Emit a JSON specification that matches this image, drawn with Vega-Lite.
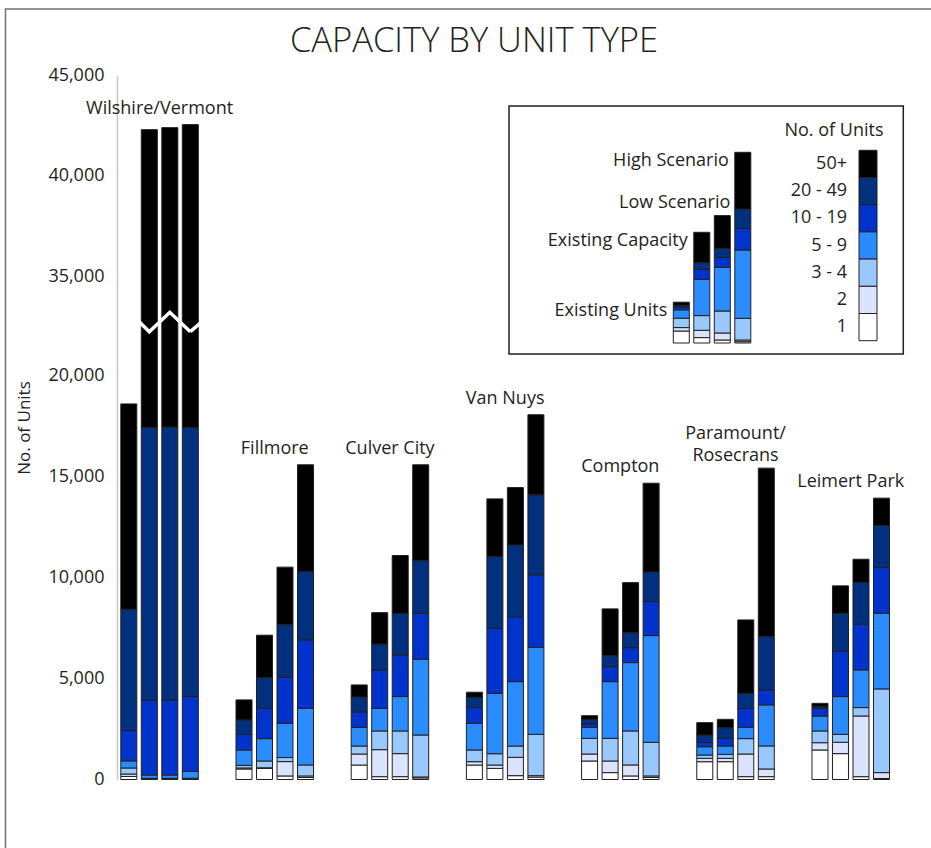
{
  "$schema": "https://vega.github.io/schema/vega-lite/v6.json",
  "width": 814,
  "height": 704,
  "autosize": {"type": "none"},
  "padding": {"left": 117, "top": 75.5, "right": 0, "bottom": 68.5},
  "background": "white",
  "title": {"text": "CAPACITY BY UNIT TYPE", "fontSize": 34.5, "fontWeight": 300, "font": "Open Sans", "color": "#231f20", "anchor": "middle", "frame": "group", "dx": -50, "dy": 35, "offset": -43.5, "baseline": "alphabetic"},
  "config": {
    "font": "Open Sans",
    "view": {"stroke": null},
    "text": {"font": "Open Sans", "fontSize": 18, "color": "#231f20"}
  },
  "datasets": {
    "bars": [
      {"n": "Wilshire/Vermont", "s": "Existing Units", "1": 150, "2": 120, "3 - 4": 300, "5 - 9": 350, "10 - 19": 1500, "20 - 49": 6000, "50+": 10150},
      {"n": "Wilshire/Vermont", "s": "Existing Capacity", "1": 20, "2": 20, "3 - 4": 20, "5 - 9": 160, "10 - 19": 3700, "20 - 49": 13480, "50+": 24900},
      {"n": "Wilshire/Vermont", "s": "Low Scenario", "1": 20, "2": 20, "3 - 4": 20, "5 - 9": 160, "10 - 19": 3710, "20 - 49": 13500, "50+": 24970},
      {"n": "Wilshire/Vermont", "s": "High Scenario", "1": 20, "2": 20, "3 - 4": 20, "5 - 9": 340, "10 - 19": 3700, "20 - 49": 13300, "50+": 25150},
      {"n": "Fillmore", "s": "Existing Units", "1": 520, "2": 50, "3 - 4": 130, "5 - 9": 760, "10 - 19": 775, "20 - 49": 710, "50+": 990},
      {"n": "Fillmore", "s": "Existing Capacity", "1": 550, "2": 30, "3 - 4": 335, "5 - 9": 1105, "10 - 19": 1500, "20 - 49": 1520, "50+": 2095},
      {"n": "Fillmore", "s": "Low Scenario", "1": 175, "2": 710, "3 - 4": 200, "5 - 9": 1700, "10 - 19": 2275, "20 - 49": 2600, "50+": 2840},
      {"n": "Fillmore", "s": "High Scenario", "1": 100, "2": 75, "3 - 4": 545, "5 - 9": 2800, "10 - 19": 3380, "20 - 49": 3380, "50+": 5280},
      {"n": "Culver City", "s": "Existing Units", "1": 715, "2": 545, "3 - 4": 395, "5 - 9": 925, "10 - 19": 760, "20 - 49": 740, "50+": 595},
      {"n": "Culver City", "s": "Existing Capacity", "1": 140, "2": 1335, "3 - 4": 925, "5 - 9": 1120, "10 - 19": 1895, "20 - 49": 1285, "50+": 1550},
      {"n": "Culver City", "s": "Low Scenario", "1": 140, "2": 1140, "3 - 4": 1120, "5 - 9": 1700, "10 - 19": 2060, "20 - 49": 2045, "50+": 2870},
      {"n": "Culver City", "s": "High Scenario", "1": 80, "2": 45, "3 - 4": 2075, "5 - 9": 3745, "10 - 19": 2275, "20 - 49": 2605, "50+": 4735},
      {"n": "Van Nuys", "s": "Existing Units", "1": 715, "2": 165, "3 - 4": 580, "5 - 9": 1320, "10 - 19": 775, "20 - 49": 510, "50+": 250},
      {"n": "Van Nuys", "s": "Existing Capacity", "1": 550, "2": 165, "3 - 4": 560, "5 - 9": 2985, "10 - 19": 3215, "20 - 49": 3545, "50+": 2855},
      {"n": "Van Nuys", "s": "Low Scenario", "1": 190, "2": 905, "3 - 4": 560, "5 - 9": 3185, "10 - 19": 3200, "20 - 49": 3560, "50+": 2835},
      {"n": "Van Nuys", "s": "High Scenario", "1": 120, "2": 70, "3 - 4": 2045, "5 - 9": 4305, "10 - 19": 3580, "20 - 49": 3955, "50+": 3960},
      {"n": "Compton", "s": "Existing Units", "1": 915, "2": 345, "3 - 4": 775, "5 - 9": 545, "10 - 19": 165, "20 - 49": 230, "50+": 180},
      {"n": "Compton", "s": "Existing Capacity", "1": 340, "2": 575, "3 - 4": 1120, "5 - 9": 2805, "10 - 19": 740, "20 - 49": 545, "50+": 2310},
      {"n": "Compton", "s": "Low Scenario", "1": 175, "2": 545, "3 - 4": 1680, "5 - 9": 3380, "10 - 19": 740, "20 - 49": 740, "50+": 2475},
      {"n": "Compton", "s": "High Scenario", "1": 100, "2": 75, "3 - 4": 1665, "5 - 9": 5275, "10 - 19": 1680, "20 - 49": 1470, "50+": 4385},
      {"n": "Paramount/Rosecrans", "s": "Existing Units", "1": 880, "2": 165, "3 - 4": 165, "5 - 9": 410, "10 - 19": 215, "20 - 49": 365, "50+": 610},
      {"n": "Paramount/Rosecrans", "s": "Existing Capacity", "1": 880, "2": 165, "3 - 4": 200, "5 - 9": 410, "10 - 19": 380, "20 - 49": 525, "50+": 415},
      {"n": "Paramount/Rosecrans", "s": "Low Scenario", "1": 140, "2": 1120, "3 - 4": 760, "5 - 9": 560, "10 - 19": 940, "20 - 49": 740, "50+": 3630},
      {"n": "Paramount/Rosecrans", "s": "High Scenario", "1": 140, "2": 380, "3 - 4": 1140, "5 - 9": 2030, "10 - 19": 740, "20 - 49": 2640, "50+": 8325},
      {"n": "Leimert Park", "s": "Existing Units", "1": 1460, "2": 360, "3 - 4": 580, "5 - 9": 740, "10 - 19": 380, "20 - 49": 80, "50+": 165},
      {"n": "Leimert Park", "s": "Existing Capacity", "1": 1280, "2": 560, "3 - 4": 395, "5 - 9": 1865, "10 - 19": 2260, "20 - 49": 1860, "50+": 1355},
      {"n": "Leimert Park", "s": "Low Scenario", "1": 140, "2": 3000, "3 - 4": 415, "5 - 9": 1865, "10 - 19": 2260, "20 - 49": 2060, "50+": 1150},
      {"n": "Leimert Park", "s": "High Scenario", "1": 50, "2": 290, "3 - 4": 4140, "5 - 9": 3740, "10 - 19": 2260, "20 - 49": 2080, "50+": 1350}
    ],
    "labels": [
      {"n": "Wilshire/Vermont", "label": "Wilshire/Vermont"},
      {"n": "Fillmore", "label": "Fillmore"},
      {"n": "Culver City", "label": "Culver City"},
      {"n": "Van Nuys", "label": "Van Nuys"},
      {"n": "Compton", "label": "Compton"},
      {"n": "Paramount/Rosecrans", "label": "Paramount/\nRosecrans"},
      {"n": "Leimert Park", "label": "Leimert Park"}
    ],
    "mini": [
      {"s": "Existing Units", "1": 600, "2": 170, "3 - 4": 470, "5 - 9": 420, "10 - 19": 130, "20 - 49": 100, "50+": 150},
      {"s": "Existing Capacity", "1": 270, "2": 365, "3 - 4": 735, "5 - 9": 1815, "10 - 19": 500, "20 - 49": 335, "50+": 1515},
      {"s": "Low Scenario", "1": 150, "2": 350, "3 - 4": 1100, "5 - 9": 2185, "10 - 19": 500, "20 - 49": 450, "50+": 1635},
      {"s": "High Scenario", "1": 65, "2": 85, "3 - 4": 1085, "5 - 9": 3415, "10 - 19": 1085, "20 - 49": 965, "50+": 2835}
    ],
    "units": [
      {"u": "50+"}, {"u": "20 - 49"}, {"u": "10 - 19"}, {"u": "5 - 9"}, {"u": "3 - 4"}, {"u": "2"}, {"u": "1"}
    ]
  },
  "layer": [
    {
      "data": {"values": [{}]},
      "mark": {"type": "rect", "fillOpacity": 0, "stroke": "#707070", "strokeWidth": 1.5},
      "encoding": {
        "x": {"datum": 0, "type": "quantitative", "scale": {"domain": [0, 1], "range": [-111.5, 830], "nice": false, "zero": false}, "axis": null},
        "x2": {"datum": 1},
        "y": {"datum": 0, "type": "quantitative", "scale": {"domain": [0, 1], "range": [790, -66.5], "nice": false, "zero": false}, "axis": null},
        "y2": {"datum": 1}
      }
    },
    {
      "layer": [
        {
          "data": {"name": "bars"},
          "transform": [
            {"fold": ["1", "2", "3 - 4", "5 - 9", "10 - 19", "20 - 49", "50+"], "as": ["u", "v"]},
            {"calculate": "indexof(['1','2','3 - 4','5 - 9','10 - 19','20 - 49','50+'], datum.u)", "as": "r"}
          ],
          "mark": {"type": "bar", "stroke": "#231f20", "strokeWidth": 1},
          "encoding": {
            "x": {"field": "n", "type": "nominal", "scale": {"domain": ["Wilshire/Vermont", "Fillmore", "Culver City", "Van Nuys", "Compton", "Paramount/Rosecrans", "Leimert Park"], "range": [3.8, 772.5], "paddingInner": 0.327, "paddingOuter": 0}, "axis": null},
            "xOffset": {"field": "s", "type": "nominal", "scale": {"domain": ["Existing Units", "Existing Capacity", "Low Scenario", "High Scenario"], "paddingInner": 0.2195, "paddingOuter": 0}},
            "y": {"field": "v", "type": "quantitative", "stack": "zero",
              "scale": {"domain": [0, 20000, 35000, 45000], "range": [704, 299.5, 200.5, 0], "nice": false, "zero": false},
              "axis": {"values": [0, 5000, 10000, 15000, 20000, 35000, 40000, 45000], "format": ",d", "title": "No. of Units", "labelFontSize": 18, "labelColor": "#231f20", "labelFont": "Open Sans", "ticks": false, "labelPadding": 13, "domainColor": "#c8c8c8", "domainWidth": 1.5, "gridColor": "#dcdcdc", "gridWidth": 1.5, "titleFontSize": 17, "titleFontWeight": "normal", "titleColor": "#231f20", "titleFont": "Open Sans", "titlePadding": 14}},
            "color": {"field": "u", "type": "nominal", "scale": {"domain": ["1", "2", "3 - 4", "5 - 9", "10 - 19", "20 - 49", "50+"], "range": ["#ffffff", "#dbe4ff", "#99c8ff", "#2a8cff", "#0033cc", "#00307e", "#000000"]}, "legend": null},
            "order": {"field": "r", "type": "quantitative", "sort": "ascending"}
          }
        },
        {
          "data": {"values": [
            {"n": "Wilshire/Vermont", "s": "Existing Units", "v": 29636},
            {"n": "Wilshire/Vermont", "s": "Existing Capacity", "v": 26561},
            {"n": "Wilshire/Vermont", "s": "Low Scenario", "v": 29500},
            {"n": "Wilshire/Vermont", "s": "High Scenario", "v": 26561}
          ]},
          "mark": {"type": "line", "color": "white", "strokeWidth": 3.5, "strokeJoin": "miter"},
          "encoding": {
            "x": {"field": "n", "type": "nominal"},
            "xOffset": {"field": "s", "type": "nominal"},
            "y": {"field": "v", "type": "quantitative"}
          }
        },
        {
          "data": {"values": [
            {"n": "Wilshire/Vermont", "s": "High Scenario", "v": 26561},
            {"n": "Fillmore", "s": "Existing Units", "v": 33500}
          ]},
          "mark": {"type": "line", "color": "white", "strokeWidth": 3.5, "strokeJoin": "miter"},
          "encoding": {
            "x": {"field": "n", "type": "nominal"},
            "xOffset": {"field": "s", "type": "nominal"},
            "y": {"field": "v", "type": "quantitative"}
          }
        },
        {
          "data": {"name": "bars"},
          "transform": [
            {"fold": ["1", "2", "3 - 4", "5 - 9", "10 - 19", "20 - 49", "50+"], "as": ["u", "v"]},
            {"aggregate": [{"op": "sum", "field": "v", "as": "tot"}], "groupby": ["n", "s"]},
            {"aggregate": [{"op": "max", "field": "tot", "as": "v"}], "groupby": ["n"]},
            {"lookup": "n", "from": {"data": {"name": "labels"}, "key": "n", "fields": ["label"]}},
            {"filter": "datum.n !== 'Paramount/Rosecrans'"}
          ],
          "mark": {"type": "text", "baseline": "bottom", "dy": -7, "fontSize": 18},
          "encoding": {
            "x": {"field": "n", "type": "nominal"},
            "y": {"field": "v", "type": "quantitative"},
            "text": {"field": "label"}
          }
        },
        {
          "data": {"name": "bars"},
          "transform": [
            {"fold": ["1", "2", "3 - 4", "5 - 9", "10 - 19", "20 - 49", "50+"], "as": ["u", "v"]},
            {"aggregate": [{"op": "sum", "field": "v", "as": "tot"}], "groupby": ["n", "s"]},
            {"aggregate": [{"op": "max", "field": "tot", "as": "v"}], "groupby": ["n"]},
            {"lookup": "n", "from": {"data": {"name": "labels"}, "key": "n", "fields": ["label"]}},
            {"filter": "datum.n === 'Paramount/Rosecrans'"}
          ],
          "mark": {"type": "text", "baseline": "bottom", "dy": -25, "lineBreak": "\n", "lineHeight": 22, "fontSize": 18},
          "encoding": {
            "x": {"field": "n", "type": "nominal"},
            "y": {"field": "v", "type": "quantitative"},
            "text": {"field": "label"}
          }
        }
      ]
    },
    {
      "data": {"values": [{}]},
      "mark": {"type": "rect", "fill": "white", "stroke": "#231f20", "strokeWidth": 1.5},
      "encoding": {
        "x": {"datum": 0, "type": "quantitative", "scale": {"domain": [0, 1], "range": [392, 786.3], "nice": false}, "axis": null},
        "x2": {"datum": 1},
        "y": {"datum": 0, "type": "quantitative", "scale": {"domain": [0, 1], "range": [278.5, 30.5], "nice": false}, "axis": null},
        "y2": {"datum": 1}
      }
    },
    {
      "layer": [
        {
          "data": {"name": "mini"},
          "transform": [
            {"fold": ["1", "2", "3 - 4", "5 - 9", "10 - 19", "20 - 49", "50+"], "as": ["u", "v"]},
            {"calculate": "indexof(['1','2','3 - 4','5 - 9','10 - 19','20 - 49','50+'], datum.u)", "as": "r"}
          ],
          "mark": {"type": "bar", "stroke": "#231f20", "strokeWidth": 1},
          "encoding": {
            "x": {"field": "s", "type": "nominal", "scale": {"domain": ["Existing Units", "Existing Capacity", "Low Scenario", "High Scenario"], "range": [556.3, 633.8], "paddingInner": 0.2195, "paddingOuter": 0}, "axis": null},
            "y": {"field": "v", "type": "quantitative", "stack": "zero", "scale": {"domain": [0, 10000], "range": [267.5, 67.5], "nice": false}, "axis": null},
            "color": {"field": "u", "type": "nominal", "scale": {"domain": ["1", "2", "3 - 4", "5 - 9", "10 - 19", "20 - 49", "50+"], "range": ["#ffffff", "#dbe4ff", "#99c8ff", "#2a8cff", "#0033cc", "#00307e", "#000000"]}, "legend": null},
            "order": {"field": "r", "type": "quantitative", "sort": "ascending"}
          }
        },
        {
          "data": {"name": "mini"},
          "transform": [
            {"fold": ["1", "2", "3 - 4", "5 - 9", "10 - 19", "20 - 49", "50+"], "as": ["u", "v"]},
            {"aggregate": [{"op": "sum", "field": "v", "as": "v"}], "groupby": ["s"]},
            {"filter": "datum.s !== 'Low Scenario'"}
          ],
          "mark": {"type": "text", "align": "right", "baseline": "middle", "dx": -14, "dy": 9, "fontSize": 18},
          "encoding": {
            "x": {"field": "s", "type": "nominal", "axis": null},
            "y": {"field": "v", "type": "quantitative", "axis": null},
            "text": {"field": "s"}
          }
        },
        {
          "data": {"name": "mini"},
          "transform": [
            {"fold": ["1", "2", "3 - 4", "5 - 9", "10 - 19", "20 - 49", "50+"], "as": ["u", "v"]},
            {"aggregate": [{"op": "sum", "field": "v", "as": "v"}], "groupby": ["s"]},
            {"filter": "datum.s === 'Low Scenario'"}
          ],
          "mark": {"type": "text", "align": "right", "baseline": "middle", "dx": 8, "dy": -12.5, "fontSize": 18},
          "encoding": {
            "x": {"field": "s", "type": "nominal", "axis": null},
            "y": {"field": "v", "type": "quantitative", "axis": null},
            "text": {"field": "s"}
          }
        }
      ]
    },
    {
      "layer": [
        {
          "data": {"name": "units"},
          "mark": {"type": "rect", "stroke": "#231f20", "strokeWidth": 1},
          "encoding": {
            "x": {"datum": "No. of Units", "type": "nominal", "scale": {"domain": ["No. of Units"], "range": [742, 760], "paddingInner": 0, "paddingOuter": 0}, "axis": null},
            "y": {"field": "u", "type": "nominal", "scale": {"domain": ["50+", "20 - 49", "10 - 19", "5 - 9", "3 - 4", "2", "1"], "range": [74.8, 265.2], "paddingInner": 0, "paddingOuter": 0}, "axis": null},
            "color": {"field": "u", "type": "nominal", "scale": {"domain": ["1", "2", "3 - 4", "5 - 9", "10 - 19", "20 - 49", "50+"], "range": ["#ffffff", "#dbe4ff", "#99c8ff", "#2a8cff", "#0033cc", "#00307e", "#000000"]}, "legend": null}
          }
        },
        {
          "data": {"name": "units"},
          "mark": {"type": "text", "align": "right", "baseline": "middle", "dx": -21, "fontSize": 18},
          "encoding": {
            "x": {"datum": "No. of Units", "type": "nominal"},
            "y": {"field": "u", "type": "nominal"},
            "text": {"field": "u"}
          }
        },
        {
          "data": {"values": [{"t": "No. of Units"}]},
          "mark": {"type": "text", "align": "center", "baseline": "middle", "dx": -34, "dy": -33.3, "fontSize": 18},
          "encoding": {
            "x": {"datum": "No. of Units", "type": "nominal"},
            "y": {"datum": "50+", "type": "nominal"},
            "text": {"field": "t"}
          }
        }
      ]
    }
  ],
  "resolve": {"scale": {"x": "independent", "y": "independent"}}
}
